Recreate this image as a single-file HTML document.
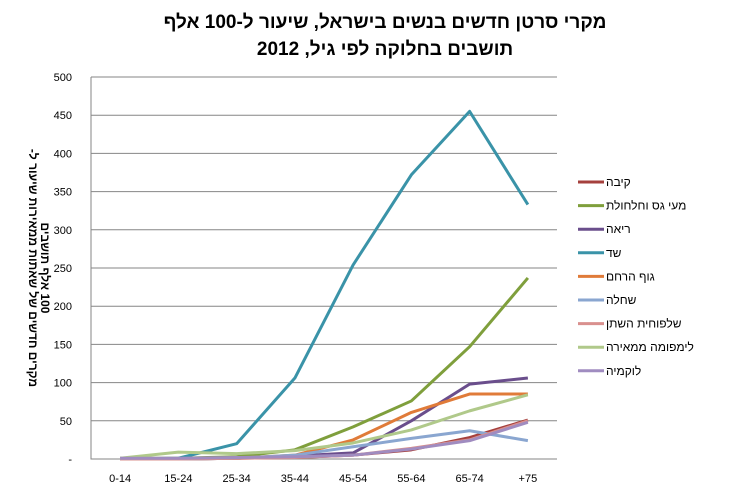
<!DOCTYPE html>
<html><head><meta charset="utf-8"><style>
body{margin:0;background:#fff;font-family:"Liberation Sans","DejaVu Sans",sans-serif;}
</style></head><body>
<svg width="732" height="489" viewBox="0 0 732 489" xmlns="http://www.w3.org/2000/svg" font-family="Liberation Sans, DejaVu Sans, sans-serif">
<g font-size="19" font-weight="bold" text-anchor="middle" direction="rtl">
<text x="385" y="28">מקרי סרטן חדשים בנשים בישראל, שיעור ל-100 אלף</text>
<text x="385" y="55">תושבים בחלוקה לפי גיל, 2012</text>
</g>
<g font-size="12" font-weight="bold" text-anchor="middle" direction="rtl" transform="translate(29,268) rotate(90)">
<text x="0" y="0">מקרים חדשים של שאתות ממאירות שיעור ל-</text>
<text x="0" y="-12">100 אלף תושבים</text>
</g>
<g id="grid"></g><g id="axes"></g><g id="series"></g><g id="legend"></g>
</svg>
<script>
const categories=["0-14","15-24","25-34","35-44","45-54","55-64","65-74","+75"];
const yTicks=[0,50,100,150,200,250,300,350,400,450,500];
const seriesNames=["קיבה","מעי גס וחלחולת","ריאה","שד","גוף הרחם","שחלה","שלפוחית השתן","לימפומה ממאירה","לוקמיה"];
const seriesColors=["#a5403d","#7f9f3c","#6a4e8c","#3a93a8","#e07b39","#8aa6d0","#d9908e","#b0c98a","#a08cc0"];
const stomach=[0,0,1,2,5,12,28,51];
const colon=[1,1,3,12,42,76,147,237];
const lung=[0,0,1,4,8,50,98,106];
const breast=[0,1,20,106,254,372,455,333];
const uterus=[0,0,1,5,25,61,85,85];
const ovary=[0,0,1,5,16,27,37,24];
const bladder=[0,0,1,2,5,14,25,50];
const lymphoma=[1,9,7,11,21,38,63,84];
const leukemia=[1,1,2,3,5,13,24,48];
const seriesData=[stomach,colon,lung,breast,uterus,ovary,bladder,lymphoma,leukemia];
const NS="http://www.w3.org/2000/svg";
const L=91,R=557,T=77,B=459;
const x=i=>L+(R-L)/categories.length*(i+0.5);
const y=v=>B-(B-T)*v/500;
function mk(t,a,p){const e=document.createElementNS(NS,t);for(const k in a)e.setAttribute(k,a[k]);p.appendChild(e);return e;}
const grid=document.getElementById('grid'),axes=document.getElementById('axes'),ser=document.getElementById('series'),leg=document.getElementById('legend');
yTicks.forEach(v=>{
 if(v>0){const g=mk('line',{x1:L,x2:R,y1:y(v),y2:y(v),stroke:'#868686','stroke-width':1},grid);
 
 }
 const t=mk('text',{x:72,y:y(v)+4,'font-size':11,'text-anchor':'end'},axes);t.textContent=v===0?'-':v;
 
 
});
const ax=mk('path',{d:`M${L},${T} V${B} H${R}`,stroke:'#868686',fill:'none'},axes);


categories.forEach((c,i)=>{const t=mk('text',{x:x(i),y:B+23,'font-size':11,'text-anchor':'middle'},axes);t.textContent=c;
 
 });
seriesData.forEach((d,s)=>{
 const p=mk('polyline',{points:d.map((v,i)=>x(i)+','+y(v)).join(' '),fill:'none',stroke:seriesColors[s],'stroke-width':3,'stroke-linejoin':'round'},ser);
 
 
 const ly=182+s*23.6;
 const g=mk('g',{},leg);
 
 
 mk('line',{x1:578,x2:604,y1:ly,y2:ly,stroke:seriesColors[s],'stroke-width':3},g);
 const t=mk('text',{x:606,y:ly+4,'font-size':12,direction:'rtl','text-anchor':'end'},g);t.textContent=seriesNames[s];
});
</script>
</body></html>
